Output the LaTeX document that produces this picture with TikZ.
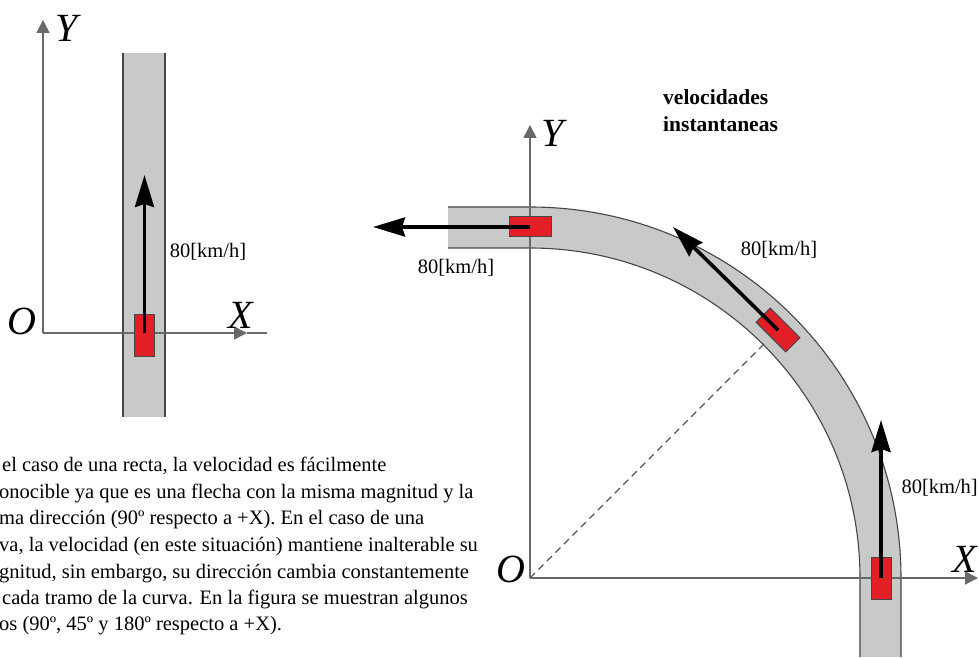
\documentclass[tikz,border=0pt]{standalone}
\usepackage{fontspec}
\setmainfont{Liberation Serif}
\usetikzlibrary{arrows.meta}
\definecolor{roadgray}{RGB}{200,201,201}
\definecolor{roadedge}{RGB}{70,70,70}
\definecolor{axisgray}{RGB}{105,105,105}
\definecolor{dashgray}{RGB}{85,85,85}
\definecolor{carred}{RGB}{226,30,38}
\tikzset{
  axisline/.style={draw=axisgray,line width=1.6pt},
  axisarrow/.style={axisline,-{Triangle[length=13pt,width=13pt]}},
  roadborder/.style={draw=roadedge,line width=1.1pt},
  car/.style={draw=roadedge,fill=carred,line width=1pt,minimum width=42pt,minimum height=20pt,inner sep=0pt,outer sep=0pt},
  velarrow/.style={draw=black,line width=3.6pt,-{Stealth[length=32pt,width=19pt,inset=3pt]}},
  axislabel/.style={font=\fontsize{40}{40}\selectfont\itshape,inner sep=0pt},
  speedlabel/.style={font=\fontsize{20.5}{24}\selectfont,inner sep=0pt},
  bodytext/.style={font=\fontsize{20.5}{24}\selectfont,inner sep=0pt,anchor=base west},
  titletext/.style={font=\fontsize{21.5}{24}\selectfont\bfseries,inner sep=0pt,anchor=base west}
}
\begin{document}
\begin{tikzpicture}[x=1pt,y=1pt]
\useasboundingbox (0,0) rectangle (979,657);
% ---------- left diagram ----------
\fill[roadgray] (123,240) rectangle (165,604);
\draw[roadborder] (123,240) -- (123,604);
\draw[roadborder] (165,240) -- (165,604);
\coordinate (OL) at (43,324);
\coordinate (YLtip) at (43,637);
\coordinate (XLtip) at (247,324);
\coordinate (XLend) at (267,324);
\draw[axisarrow] (OL) -- (YLtip);
\draw[axisarrow] (OL) -- (XLtip);
\draw[axisline] (XLtip) -- (XLend);
\node[axislabel] (yl) at (67,629) {Y};
\node[axislabel] (ol) at (22,336) {O};
\node[axislabel] (xl) at (241,342) {X};
\node[car,rotate=90] (carL) at (144.5,322) {};
\coordinate (tipL) at (144.5,482);
\draw[velarrow] (144.5,324) -- (tipL);
\node[speedlabel] (sL) at (208,405) {80[km/h]};
% ---------- paragraph ----------
\node[bodytext] (p1) at (2,186) {el caso de una recta, la velocidad es fácilmente};
\node[bodytext] (p2) at (-1,159) {onocible ya que es una flecha con la misma magnitud y la};
\node[bodytext] (p3) at (-1,133) {ma dirección (90º respecto a +X). En el caso de una};
\node[bodytext] (p4) at (-1,106) {va, la velocidad (en este situación) mantiene inalterable su};
\node[bodytext] (p5) at (-1,79) {gnitud, sin embargo, su dirección cambia constantemente};
\node[bodytext] (p6) at (2,53) {cada tramo de la curva. En la figura se muestran algunos};
\node[bodytext] (p7) at (-1,27) {os (90º, 45º y 180º respecto a +X).};
% ---------- right diagram ----------
\fill[roadgray] (448,409) -- (530,409) arc[start angle=90,end angle=0,radius=330pt] -- (860,0)
  -- (901,0) -- (901,79) arc[start angle=0,end angle=90,radius=371pt] -- (448,450) -- cycle;
\draw[roadborder] (448,409) -- (530,409) arc[start angle=90,end angle=0,radius=330pt] -- (860,0);
\draw[roadborder] (448,450) -- (530,450) arc[start angle=90,end angle=0,radius=371pt] -- (901,0);
\coordinate (OR) at (530,79);
\coordinate (YRtip) at (530,532);
\coordinate (XRtip) at (978,79);
\coordinate (dashend) at (765,314);
\draw[dashgray,line width=1.3pt,dash pattern=on 7pt off 5pt] (OR) -- (dashend);
\draw[axisarrow] (OR) -- (YRtip);
\draw[axisarrow] (OR) -- (XRtip);
\node[axislabel] (yr) at (553,524) {Y};
\node[axislabel] (or) at (511,88) {O};
\node[axislabel] (xr) at (965,98) {X};
\node[car] (carT) at (530,430) {};
\node[car,rotate=-45] (carD) at (778,327) {};
\node[car,rotate=90] (carR) at (881,79) {};
\coordinate (tipT) at (373,430);
\coordinate (tipD) at (673,430);
\coordinate (tipR) at (881,237);
\draw[velarrow] (carT.center) -- (tipT);
\draw[velarrow] (carD.center) -- (tipD);
\draw[velarrow] (carR.center) -- (tipR);
\node[speedlabel] (sT) at (456,389) {80[km/h]};
\node[speedlabel] (sD) at (779,407) {80[km/h]};
\node[speedlabel,anchor=east] (sR) at (978,169) {80[km/h]};
\node[titletext] (t1) at (663,552) {velocidades};
\node[titletext] (t2) at (663,525) {instantaneas};
\end{tikzpicture}
\end{document}
